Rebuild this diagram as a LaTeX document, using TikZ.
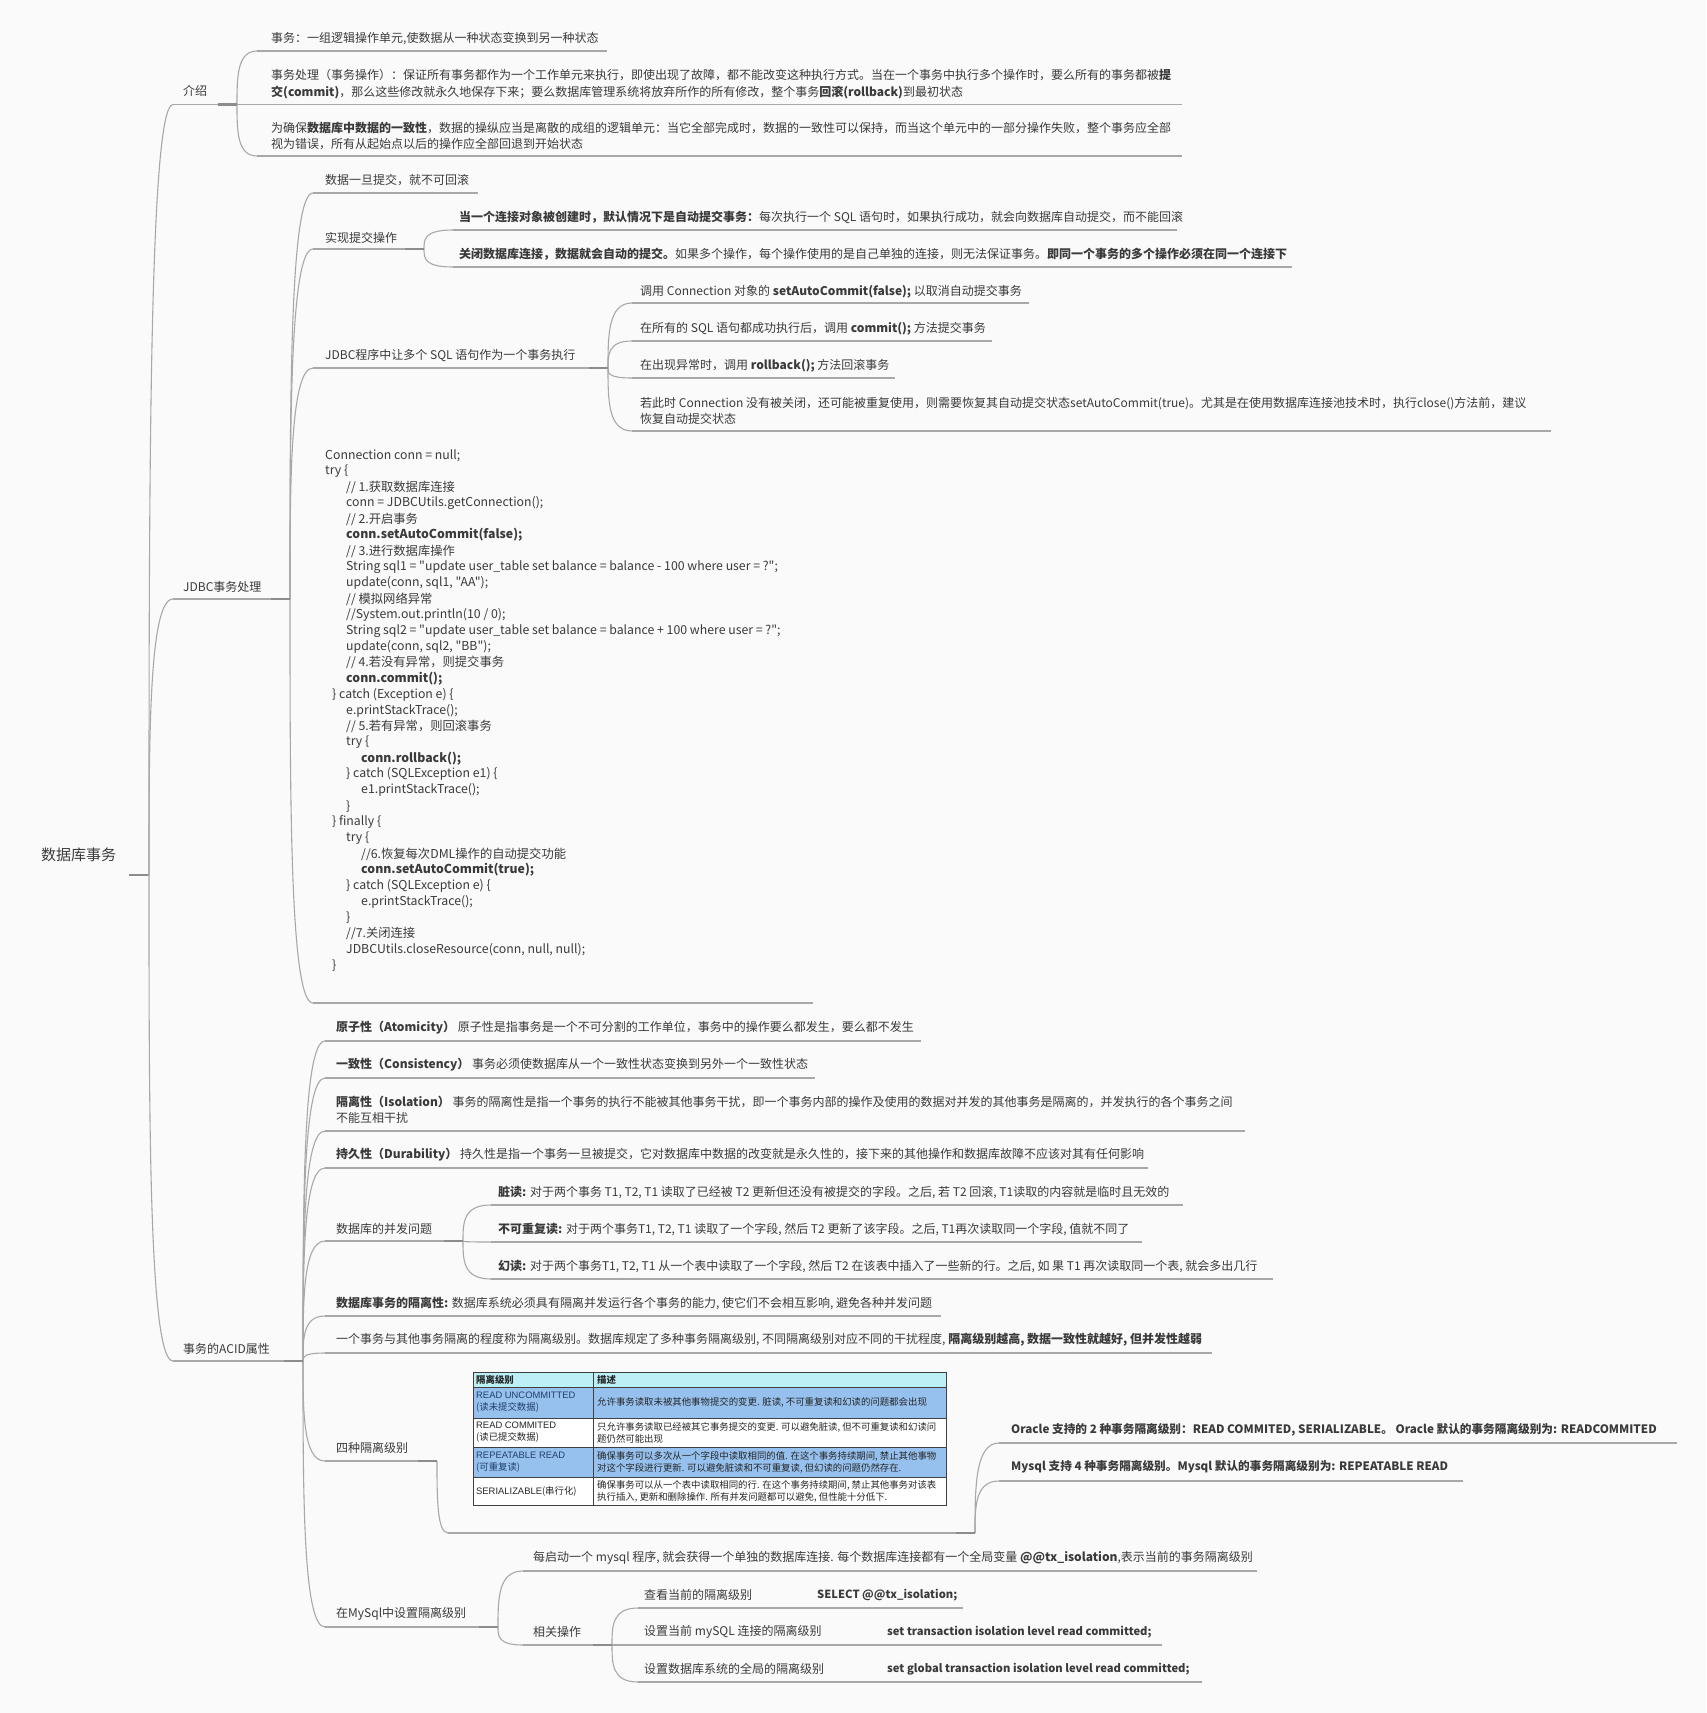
\documentclass[tikz,border=0pt]{standalone}
\usepackage{fontspec}
\setmainfont{Noto Sans CJK SC}
\newfontfamily\codef{Noto Sans CJK SC}[Ligatures=TeXOff]
\newfontfamily\arialf{Liberation Sans}
\usetikzlibrary{calc}
\definecolor{tc}{HTML}{3A3A3A}
\definecolor{lc}{HTML}{A8A8A8}
\definecolor{sc}{HTML}{8C8C8C}
\definecolor{bgc}{HTML}{FAFAFA}
\definecolor{hdr}{HTML}{BDEFF6}
\definecolor{blu}{HTML}{96C1EE}
\definecolor{navy}{HTML}{22406E}
\tikzset{
  txt/.style={font=\fontsize{12}{16.3}\selectfont, text=tc, inner sep=0pt, align=left, anchor=west},
  codetxt/.style={font=\codef\fontsize{12.3}{16}\selectfont, text=tc, inner sep=0pt, anchor=west},
  tbltxt/.style={font=\fontsize{9.4}{12}\selectfont, text=black!85, inner sep=0pt, align=left, anchor=west},
  uline/.style={draw=lc, line width=1.1pt},
  branch/.style={draw=lc, line width=1.1pt},
  stubline/.style={draw=sc, line width=2.4pt},
  tblline/.style={draw=black!75, line width=0.8pt},
  narrowbold/.style={font=\fontsize{11.2}{15}\selectfont}
}
\newcommand\topic[7]{%
  \node[txt] (#1) at (#2,#3) {#7};
  \coordinate (#1-s) at (#5,#4);
  \coordinate (#1-e) at (#6,#4);
  \draw[uline] (#1-s) -- (#1-e);}
\newcommand\conn[2]{\draw[branch] let \p1=(#1), \p2=(#2) in (\p1) .. controls (\x1,{0.5*\y1+0.5*\y2}) and (\x1,\y2) .. (\p2);}
\newcommand\stub[1]{\draw[stubline] ($(#1-e)+(-19,0)$) -- (#1-e);}
\newcommand\cl[3]{\node[codetxt] (code#1) at (#2,{455.5+15.94*(#1-1)}) {#3};}
\begin{document}
\begin{tikzpicture}[x=1pt,y=-1pt]
\path[use as bounding box, fill=bgc] (0,0) rectangle (1706,1713);

% root
\node[txt, font=\fontsize{15}{18}\selectfont] (root) at (41,855) {数据库事务};
\coordinate (root-s) at (129,875);
\coordinate (root-e) at (149,875);
\draw[stubline] (root-s) -- (root-e);

% intro
\topic{intro}{183}{91}{104.5}{173}{237}{介绍}
\topic{i1}{271}{38.5}{51}{257}{607}{事务：一组逻辑操作单元,使数据从一种状态变换到另一种状态}
\topic{i2}{271}{84}{104.5}{257}{1182}{事务处理（事务操作）：保证所有事务都作为一个工作单元来执行，即使出现了故障，都不能改变这种执行方式。当在一个事务中执行多个操作时，要么所有的事务都被\textbf{提}\\\textbf{交(commit)}，那么这些修改就永久地保存下来；要么数据库管理系统将放弃所作的所有修改，整个事务\textbf{回滚(rollback)}到最初状态}
\topic{i3}{271}{136}{156}{257}{1182}{为确保\textbf{数据库中数据的一致性}，数据的操纵应当是离散的成组的逻辑单元：当它全部完成时，数据的一致性可以保持，而当这个单元中的一部分操作失败，整个事务应全部\\视为错误，所有从起始点以后的操作应全部回退到开始状态}

% JDBC
\topic{jdbc}{183}{587}{599}{173}{290}{JDBC事务处理}
\topic{j1}{325}{180}{193}{313}{478}{数据一旦提交，就不可回滚}
\topic{j2}{325}{238}{249}{313}{424}{实现提交操作}
\topic{j2a}{459}{217.5}{230}{453}{1177}{\textbf{当一个连接对象被创建时，默认情况下是自动提交事务：}每次执行一个 SQL 语句时，如果执行成功，就会向数据库自动提交，而不能回滚}
\topic{j2b}{459}{254.5}{267}{453}{1292}{\textbf{关闭数据库连接，数据就会自动的提交。}如果多个操作，每个操作使用的是自己单独的连接，则无法保证事务。\textbf{即同一个事务的多个操作必须在同一个连接下}}
\topic{j3}{325}{356}{368}{313}{608}{JDBC程序中让多个 SQL 语句作为一个事务执行}
\topic{j3a}{640}{292}{303}{632}{1029}{调用 Connection 对象的 \textbf{setAutoCommit(false);} 以取消自动提交事务}
\topic{j3b}{640}{329}{341}{632}{992}{在所有的 SQL 语句都成功执行后，调用 \textbf{commit();} 方法提交事务}
\topic{j3c}{640}{366}{378}{632}{895}{在出现异常时，调用 \textbf{rollback();} 方法回滚事务}
\topic{j3d}{640}{411}{431}{632}{1551}{若此时 Connection 没有被关闭，还可能被重复使用，则需要恢复其自动提交状态setAutoCommit(true)。尤其是在使用数据库连接池技术时，执行close()方法前，建议\\恢复自动提交状态}

% code block
\cl{1}{325}{Connection conn = null;}
\cl{2}{325}{try \{}
\cl{3}{346}{// 1.获取数据库连接}
\cl{4}{346}{conn = JDBCUtils.getConnection();}
\cl{5}{346}{// 2.开启事务}
\cl{6}{346}{\textbf{conn.setAutoCommit(false);}}
\cl{7}{346}{// 3.进行数据库操作}
\cl{8}{346}{String sql1 = "update user\_table set balance = balance - 100 where user = ?";}
\cl{9}{346}{update(conn, sql1, "AA");}
\cl{10}{346}{// 模拟网络异常}
\cl{11}{346}{//System.out.println(10 / 0);}
\cl{12}{346}{String sql2 = "update user\_table set balance = balance + 100 where user = ?";}
\cl{13}{346}{update(conn, sql2, "BB");}
\cl{14}{346}{// 4.若没有异常，则提交事务}
\cl{15}{346}{\textbf{conn.commit();}}
\cl{16}{332}{\} catch (Exception e) \{}
\cl{17}{346}{e.printStackTrace();}
\cl{18}{346}{// 5.若有异常，则回滚事务}
\cl{19}{346}{try \{}
\cl{20}{361}{\textbf{conn.rollback();}}
\cl{21}{346}{\} catch (SQLException e1) \{}
\cl{22}{361}{e1.printStackTrace();}
\cl{23}{346}{\}}
\cl{24}{332}{\} finally \{}
\cl{25}{346}{try \{}
\cl{26}{361}{//6.恢复每次DML操作的自动提交功能}
\cl{27}{361}{\textbf{conn.setAutoCommit(true);}}
\cl{28}{346}{\} catch (SQLException e) \{}
\cl{29}{361}{e.printStackTrace();}
\cl{30}{346}{\}}
\cl{31}{346}{//7.关闭连接}
\cl{32}{346}{JDBCUtils.closeResource(conn, null, null);}
\cl{33}{332}{\}}
\coordinate (code-s) at (313,1003);
\coordinate (code-e) at (813,1003);
\draw[uline] (code-s) -- (code-e);

% ACID
\topic{acid}{183}{1349}{1361}{173}{303}{事务的ACID属性}
\topic{a1}{336}{1028}{1041}{325}{921}{\textbf{原子性（Atomicity）}\ 原子性是指事务是一个不可分割的工作单位，事务中的操作要么都发生，要么都不发生}
\topic{a2}{336}{1065}{1078}{325}{815}{\textbf{一致性（Consistency）}\ 事务必须使数据库从一个一致性状态变换到另外一个一致性状态}
\topic{a3}{336}{1110}{1131}{325}{1245}{\textbf{隔离性（Isolation）}\ 事务的隔离性是指一个事务的执行不能被其他事务干扰，即一个事务内部的操作及使用的数据对并发的其他事务是隔离的，并发执行的各个事务之间\\不能互相干扰}
\topic{a4}{336}{1154.5}{1168}{325}{1148}{\textbf{持久性（Durability）}\ 持久性是指一个事务一旦被提交，它对数据库中数据的改变就是永久性的，接下来的其他操作和数据库故障不应该对其有任何影响}
\topic{a5}{336}{1229}{1241}{325}{463}{数据库的并发问题}
\topic{a5a}{498}{1192}{1205}{491}{1183}{\textbf{脏读:} 对于两个事务 T1, T2, T1 读取了已经被 T2 更新但还没有被提交的字段。之后, 若 T2 回滚, T1读取的内容就是临时且无效的}
\topic{a5b}{498}{1229}{1242}{491}{1142}{\textbf{不可重复读:} 对于两个事务T1, T2, T1 读取了一个字段, 然后 T2 更新了该字段。之后, T1再次读取同一个字段, 值就不同了}
\topic{a5c}{498}{1266}{1279}{491}{1273}{\textbf{幻读:} 对于两个事务T1, T2, T1 从一个表中读取了一个字段, 然后 T2 在该表中插入了一些新的行。之后, 如 果 T1 再次读取同一个表, 就会多出几行}
\topic{a6}{336}{1303}{1316}{325}{941}{\textbf{数据库事务的隔离性:} 数据库系统必须具有隔离并发运行各个事务的能力, 使它们不会相互影响, 避免各种并发问题}
\topic{a7}{336}{1340}{1353}{325}{1212}{一个事务与其他事务隔离的程度称为隔离级别。数据库规定了多种事务隔离级别, 不同隔离级别对应不同的干扰程度, \textbf{隔离级别越高, 数据一致性就越好, 但并发性越弱}}
\topic{a8}{336}{1448}{1461}{325}{437}{四种隔离级别}

% table
\fill[hdr] (473,1372) rectangle (946,1387);
\fill[blu] (473,1387) rectangle (946,1418);
\fill[white] (473,1418) rectangle (946,1447);
\fill[blu] (473,1447) rectangle (946,1477);
\fill[white] (473,1477) rectangle (946,1505);
\draw[tblline] (473,1372) rectangle (946,1505);
\foreach \yy in {1387,1418,1447,1477} \draw[tblline] (473,\yy) -- (946,\yy);
\draw[tblline] (593,1372) -- (593,1505);
\node[tbltxt] (th1) at (476,1379.5) {\textbf{隔离级别}};
\node[tbltxt] (th2) at (597,1379.5) {\textbf{描述}};
\node[tbltxt, text=navy] (r1a) at (476,1402.5) {{\arialf READ UNCOMMITTED}\\(读未提交数据)};
\node[tbltxt] (r1b) at (597,1402.5) {允许事务读取未被其他事物提交的变更. 脏读, 不可重复读和幻读的问题都会出现};
\node[tbltxt] (r2a) at (476,1432.5) {{\arialf READ COMMITED}\\(读已提交数据)};
\node[tbltxt] (r2b) at (597,1432.5) {只允许事务读取已经被其它事务提交的变更. 可以避免脏读, 但不可重复读和幻读问\\题仍然可能出现};
\node[tbltxt, text=navy] (r3a) at (476,1462) {{\arialf REPEATABLE READ}\\(可重复读)};
\node[tbltxt] (r3b) at (597,1462) {确保事务可以多次从一个字段中读取相同的值. 在这个事务持续期间, 禁止其他事物\\对这个字段进行更新. 可以避免脏读和不可重复读, 但幻读的问题仍然存在.};
\node[tbltxt] (r4a) at (476,1491) {{\arialf SERIALIZABLE}(串行化)};
\node[tbltxt] (r4b) at (597,1491) {确保事务可以从一个表中读取相同的行. 在这个事务持续期间, 禁止其他事务对该表\\执行插入, 更新和删除操作. 所有并发问题都可以避免, 但性能十分低下.};
\coordinate (tbl-s) at (448,1533);
\coordinate (tbl-e) at (975,1533);
\draw[uline] (tbl-s) -- (tbl-e);

\topic{ora}{1011}{1430}{1443}{999}{1677}{\fontsize{11.65}{15}\selectfont\textbf{Oracle 支持的 2 种事务隔离级别：READ COMMITED, SERIALIZABLE。 Oracle 默认的事务隔离级别为: READCOMMITED}}
\topic{mys}{1011}{1467}{1481}{999}{1463}{\fontsize{11.65}{15}\selectfont\textbf{Mysql 支持 4 种事务隔离级别。Mysql 默认的事务隔离级别为: REPEATABLE READ}}

\topic{a9}{336}{1614}{1627}{325}{498}{在MySql中设置隔离级别}
\topic{a9a}{533}{1558}{1571}{523}{1257}{每启动一个 mysql 程序, 就会获得一个单独的数据库连接. 每个数据库连接都有一个全局变量 \textbf{@@tx\_isolation},表示当前的事务隔离级别}
\topic{a9b}{533}{1632}{1645}{523}{612}{相关操作}
\topic{op1}{644}{1595}{1608}{638}{963}{查看当前的隔离级别}
\node[txt, narrowbold] (op1b) at (817,1595) {\textbf{SELECT @@tx\_isolation;}};
\topic{op2}{644}{1632}{1645}{638}{1162}{设置当前 mySQL 连接的隔离级别}
\node[txt, narrowbold] (op2b) at (887,1632) {\textbf{set transaction isolation level read committed;}};
\topic{op3}{644}{1669}{1682}{638}{1202}{设置数据库系统的全局的隔离级别}
\node[txt, narrowbold] (op3b) at (887,1669) {\textbf{set global transaction isolation level read committed;}};

% connectors
\conn{root-e}{intro-s}
\conn{root-e}{jdbc-s}
\conn{root-e}{acid-s}
\conn{intro-e}{i1-s}
\conn{intro-e}{i2-s}
\conn{intro-e}{i3-s}
\conn{jdbc-e}{j1-s}
\conn{jdbc-e}{j2-s}
\conn{jdbc-e}{j3-s}
\conn{jdbc-e}{code-s}
\conn{j2-e}{j2a-s}
\conn{j2-e}{j2b-s}
\conn{j3-e}{j3a-s}
\conn{j3-e}{j3b-s}
\conn{j3-e}{j3c-s}
\conn{j3-e}{j3d-s}
\conn{acid-e}{a1-s}
\conn{acid-e}{a2-s}
\conn{acid-e}{a3-s}
\conn{acid-e}{a4-s}
\conn{acid-e}{a5-s}
\conn{acid-e}{a6-s}
\conn{acid-e}{a7-s}
\conn{acid-e}{a8-s}
\conn{acid-e}{a9-s}
\conn{a5-e}{a5a-s}
\conn{a5-e}{a5b-s}
\conn{a5-e}{a5c-s}
\conn{a8-e}{tbl-s}
\conn{tbl-e}{ora-s}
\conn{tbl-e}{mys-s}
\conn{a9-e}{a9a-s}
\conn{a9-e}{a9b-s}
\conn{a9b-e}{op1-s}
\conn{a9b-e}{op2-s}
\conn{a9b-e}{op3-s}

% stubs
\stub{intro}
\stub{jdbc}
\stub{j2}
\stub{j3}
\stub{acid}
\stub{a5}
\stub{a8}
\stub{tbl}
\stub{a9}
\stub{a9b}
\end{tikzpicture}
\end{document}
